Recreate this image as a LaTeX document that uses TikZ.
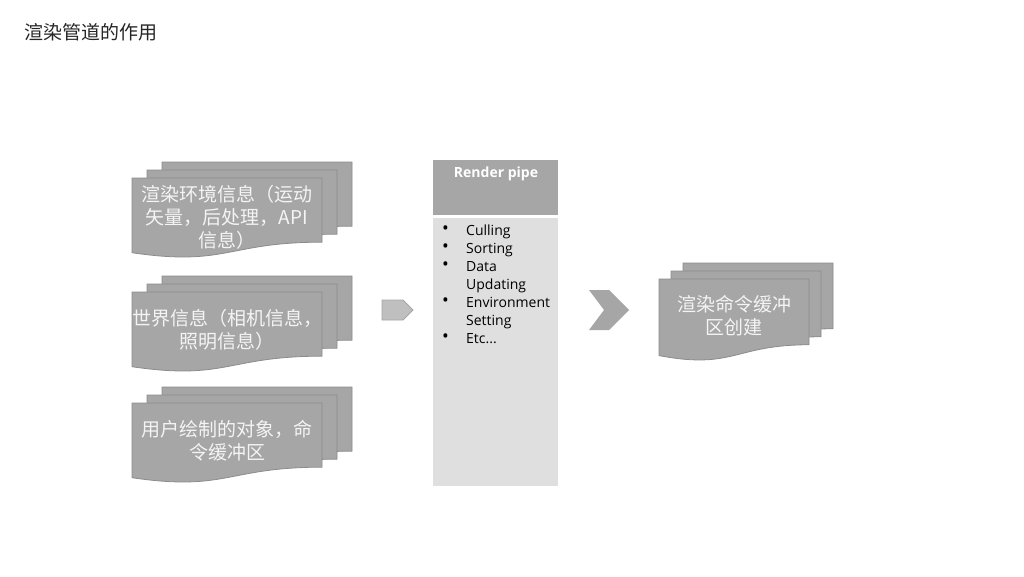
\documentclass[tikz,border=0pt]{standalone}
\usepackage{fontspec}
\setmainfont{Open Sans}
\newfontfamily\cjk{Noto Sans CJK SC}
\definecolor{docgray}{HTML}{A6A6A6}
\definecolor{docline}{HTML}{8C8C8C}
\definecolor{pipebg}{HTML}{DFDFDF}
\definecolor{arrowgray}{HTML}{BFBFBF}
\definecolor{doctext}{HTML}{F4F4F4}
\tikzset{
  docshape/.style={fill=docgray,draw=docline,line width=0.8pt},
  doclabel/.style={text=doctext,align=center,font=\cjk\fontsize{19}{23}\selectfont},
  listtext/.style={align=left,anchor=west,inner sep=0pt,font=\fontsize{14}{18}\selectfont}
}
% one document page: x, y (top left), width, height
\newcommand{\docpage}[4]{%
  \filldraw[docshape] (#1,#2) -- ({#1+#3},#2) -- ({#1+#3},{#2+0.802*#4})
    .. controls ({#1+0.5*#3},{#2+0.802*#4}) and ({#1+0.5*#3},{#2+1.1075*#4}) .. ({#1},{#2+0.934*#4}) -- cycle;}
% three stacked pages: x, y of the front page, width, height, step
\newcommand{\docstack}[5]{%
  \docpage{#1+2*#5}{#2-16}{#3}{#4}%
  \docpage{#1+#5}{#2-8}{#3}{#4}%
  \docpage{#1}{#2}{#3}{#4}}
\begin{document}
\begin{tikzpicture}[x=1pt,y=-1pt]
    \useasboundingbox[fill=white] (0,0) rectangle (1024,576);
    \node[anchor=west,inner sep=0pt,font=\cjk\fontsize{19}{23}\selectfont,text=black!85] (title) at (24,32) {渲染管道的作用};
    % inputs
    \docstack{132}{178}{190}{80}{15}
    \docstack{132}{292}{190}{80}{15}
    \docstack{132}{403}{190}{80}{15}
    \node[doclabel] (env) at (227,217) {渲染环境信息（运动\\矢量，后处理，API\\信息）};
    \node[doclabel] (world) at (227,330) {世界信息（相机信息，\\照明信息）};
    \node[doclabel] (user) at (227,441) {用户绘制的对象，命\\令缓冲区};
    % arrow into the pipe
    \filldraw[fill=arrowgray,draw=docgray,line width=0.8pt] (382,300) -- (403,300) -- (413,310) -- (403,320) -- (382,320) -- cycle;
    % render pipe
    \node[fill=docgray,minimum width=125pt,minimum height=55pt,inner sep=0pt] (pipehead) at (495.5,187.5) {};
    \node[text=white,font=\bfseries\fontsize{14}{17}\selectfont] (pipetitle) at (496,174) {Render pipe};
    \node[fill=pipebg,minimum width=125pt,minimum height=268pt,inner sep=0pt] (pipebody) at (495.5,352) {};
    \node[listtext,font=\fontsize{18}{18}\selectfont] (bullets) at (442,284) {•\\•\\•\\\mbox{}\\•\\\mbox{}\\•};
    \node[listtext] (steps) at (466,284) {Culling\\Sorting\\Data\\Updating\\Environment\\Setting\\Etc...};
    % arrow out of the pipe
    \fill[docgray] (589,290) -- (609,290) -- (629,310) -- (609,330) -- (589,330) -- (604,310) -- cycle;
    % output
    \docstack{659}{279}{150}{82}{12}
    \node[doclabel] (cmdbuf) at (734,316) {渲染命令缓冲\\区创建};
\end{tikzpicture}
\end{document}
